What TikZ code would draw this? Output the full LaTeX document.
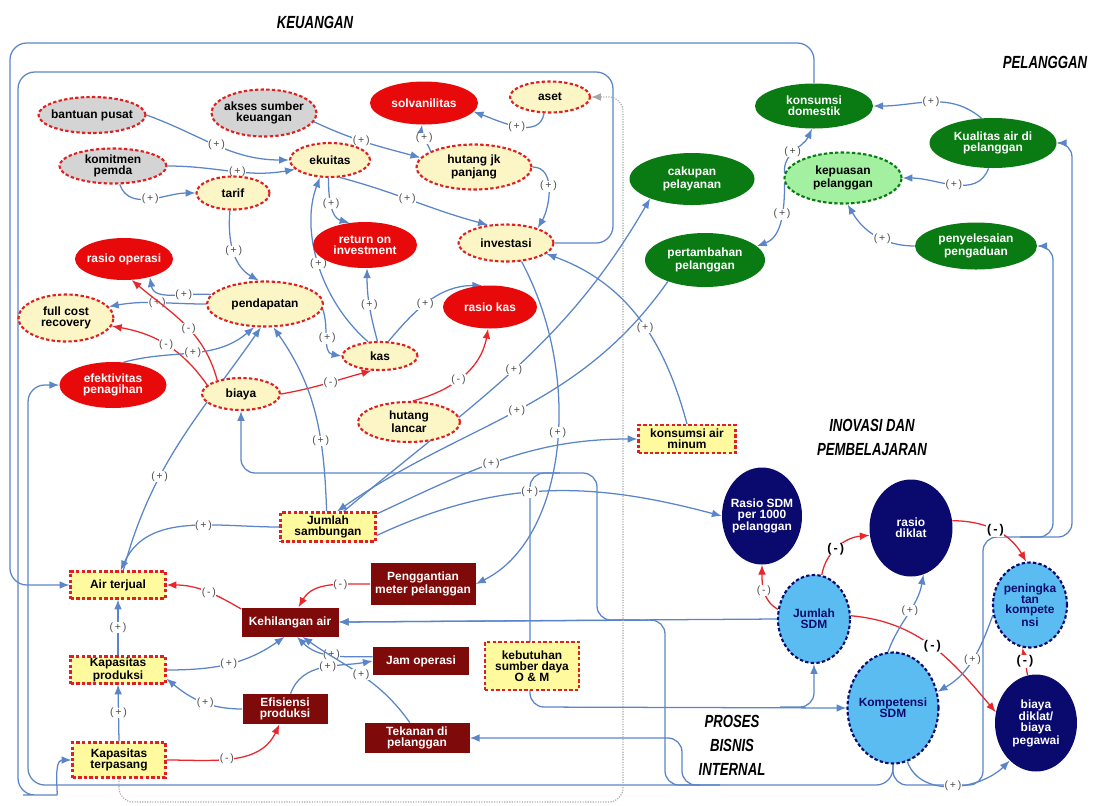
\documentclass[tikz,border=0pt]{standalone}
\usepackage{fontspec}
\setmainfont{Liberation Sans}
\newfontfamily\ttlfont[FakeStretch=0.75]{Liberation Sans}
\usetikzlibrary{shapes.geometric,arrows.meta,backgrounds}

\definecolor{lnblue}{HTML}{5A85C8}
\definecolor{lnred}{HTML}{E8262C}
\definecolor{bdred}{HTML}{E02020}
\definecolor{fillyel}{HTML}{FCF6C6}
\definecolor{boxyel}{HTML}{FFFA9E}
\definecolor{fillgray}{HTML}{D4D4D4}
\definecolor{solred}{HTML}{E80A0A}
\definecolor{dkgreen}{HTML}{0A7A12}
\definecolor{ltgreen}{HTML}{A3F0A0}
\definecolor{dkred}{HTML}{7E0A0A}
\definecolor{navyb}{HTML}{0A0A6E}
\definecolor{skyb}{HTML}{5BBCF2}

\newcommand{\lplus}{(\,+\,)}
\newcommand{\lminus}{(\,-\,)}

\begin{document}
\begin{tikzpicture}[x=0.025cm, y=-0.025cm,
    wh/.style 2 args={minimum width=#1*0.025cm, minimum height=#2*0.025cm},
    txt/.style={font=\fontsize{8.5}{7.8}\selectfont\bfseries, align=center},
    rdash/.style={draw=bdred, line width=1.5pt, dash pattern=on 2.4pt off 1.6pt},
    yel/.style={txt, ellipse, rdash, fill=fillyel, inner xsep=-4pt, inner ysep=-3pt},
    gry/.style={yel, fill=fillgray},
    redE/.style={txt, ellipse, fill=solred, text=white, inner xsep=-4pt, inner ysep=-3pt},
    grnE/.style={txt, ellipse, fill=dkgreen, text=white, inner xsep=-4pt, inner ysep=-3pt},
    grnL/.style={txt, ellipse, fill=ltgreen, draw=dkgreen, line width=1.5pt, dash pattern=on 2.4pt off 1.6pt, inner xsep=-4pt, inner ysep=-3pt},
    ybox/.style={txt, rectangle, rdash, fill=boxyel, inner sep=1pt},
    rbox/.style={txt, rectangle, fill=dkred, text=white, inner sep=1pt},
    navE/.style={txt, ellipse, fill=navyb, text=white, inner sep=-3pt},
    skyE/.style={txt, ellipse, fill=skyb, draw=navyb, line width=1.5pt, dash pattern=on 2.4pt off 1.6pt, text=navyb, inner sep=-3pt},
    cl/.style={draw=lnblue, line width=0.9pt, -{Latex[length=7pt,width=5.5pt]}},
    cr/.style={cl, draw=lnred},
    dotln/.style={draw=gray!70, line width=0.8pt, densely dotted, -{Latex[length=7pt,width=5.5pt]}},
    lbl/.style={fill=white, inner sep=0.4pt, font=\fontsize{7.5}{7.5}\selectfont, text=black!70},
    lblb/.style={lbl, font=\fontsize{9}{9}\selectfont\bfseries, text=black},
    ttl/.style={font=\ttlfont\fontsize{12.5}{17}\selectfont\bfseries\itshape, align=center}
]
    \useasboundingbox (0,0) rectangle (1094,805);

    % Titles
    \node[ttl] (tkeu) at (315,22) {KEUANGAN};
    \node[ttl] (tpel) at (1045,62) {PELANGGAN};
    \node[ttl] (tino) at (872,437) {INOVASI DAN\\PEMBELAJARAN};
    \node[ttl] (tpro) at (732,745) {PROSES\\BISNIS\\INTERNAL};

    % Keuangan
    \node[gry, wh={107}{36}] (bantuan) at (92,115) {bantuan pusat};
    \node[gry, wh={105}{47}] (akses) at (264,113) {akses sumber\\keuangan};
    \node[gry, wh={107}{35}] (komitmen) at (113,166) {komitmen\\pemda};
    \node[redE, wh={108}{43}] (solv) at (424,103) {solvanilitas};
    \node[yel, wh={80}{31}] (aset) at (550,97) {aset};
    \node[yel, wh={80}{34}] (ekuitas) at (330,160) {ekuitas};
    \node[yel, wh={115}{45}] (hutangjp) at (474,167) {hutang jk\\panjang};
    \node[yel, wh={73}{33}] (tarif) at (233,193) {tarif};
    \node[redE, wh={104}{46}] (roi) at (365,245) {return on\\investment};
    \node[yel, wh={95}{37}] (invest) at (506,243) {investasi};
    \node[redE, wh={98}{42}] (rasioop) at (124,259) {rasio operasi};
    \node[yel, wh={95}{47}] (fcr) at (66,318) {full cost\\recovery};
    \node[yel, wh={116}{45}] (pend) at (265,304) {pendapatan};
    \node[yel, wh={75}{28}] (kas) at (380,356) {kas};
    \node[redE, wh={94}{43}] (rasiokas) at (490,307) {rasio kas};
    \node[redE, wh={107}{46}] (efek) at (113,385) {efektivitas\\penagihan};
    \node[yel, wh={78}{32}] (biaya) at (241,394) {biaya};
    \node[yel, wh={102}{40}] (hlancar) at (409,422) {hutang\\lancar};

    % Pelanggan
    \node[grnE, wh={118}{45}] (kdom) at (814,106) {konsumsi\\domestik};
    \node[grnE, wh={127}{50}] (kualitas) at (993,143) {Kualitas air di\\pelanggan};
    \node[grnL, wh={117}{51}] (kepuasan) at (843,178) {kepuasan\\pelanggan};
    \node[grnE, wh={125}{52}] (cakupan) at (692,179) {cakupan\\pelayanan};
    \node[grnE, wh={122}{47}] (penyel) at (976,246) {penyelesaian\\pengaduan};
    \node[grnE, wh={120}{54}] (pertamb) at (705,260) {pertambahan\\pelanggan};

    % Proses bisnis internal
    \node[ybox, wh={97}{28}] (kam) at (687,439) {konsumsi air\\minum};
    \node[ybox, wh={95}{29}] (jsamb) at (328,527) {Jumlah\\sambungan};
    \node[ybox, wh={95}{27}] (airt) at (118,585) {Air terjual};
    \node[rbox, wh={105}{42}] (pgm) at (423,584) {Penggantian\\meter pelanggan};
    \node[rbox, wh={97}{29}] (kehil) at (290,622) {Kehilangan air};
    \node[rbox, wh={96}{28}] (jamop) at (421,661) {Jam operasi};
    \node[ybox, wh={94}{48}] (kebut) at (532,666) {kebutuhan\\sumber daya\\O \& M};
    \node[ybox, wh={95}{27}] (kprod) at (118,670) {Kapasitas\\produksi};
    \node[rbox, wh={85}{30}] (efis) at (285,709) {Efisiensi\\produksi};
    \node[rbox, wh={105}{30}] (tekanan) at (417,738) {Tekanan di\\pelanggan};
    \node[ybox, wh={93}{35}] (kterp) at (119,760) {Kapasitas\\terpasang};

    % Inovasi dan pembelajaran
    \node[navE, wh={80}{97}] (rsdm) at (762,516) {Rasio SDM\\per 1000\\pelanggan};
    \node[navE, wh={83}{97}] (rdiklat) at (911,528) {rasio\\diklat};
    \node[skyE, wh={72}{88}] (jsdm) at (814,619) {Jumlah\\SDM};
    \node[skyE, wh={74}{85}] (pkomp) at (1030,605) {peningka\\tan\\kompete\\nsi};
    \node[skyE, wh={91}{111}] (komp) at (893,708) {Kompetensi\\SDM};
    \node[navE, wh={82}{97}] (bdiklat) at (1036,723) {biaya\\diklat/\\biaya\\pegawai};

    \begin{scope}[on background layer]
    % Long loops
    \draw[cl, rounded corners=12pt] (kdom.north) -- (814,43) -- (10,43) -- (10,585) -- (airt.west);
    \draw[cl, rounded corners=12pt] (invest.east) -- (613,243) -- (613,72) -- (18,72) -- (18,795) -- (40,795) to[out=0,in=180] (kterp.west);
    \draw[cl, rounded corners=12pt] (komp.south) |- (28,785) |- (efek.west);
    \draw[cl, rounded corners=10pt] (komp.south) |- (983,785) |- (1053,537) |- (penyel.east);
    \draw[cl, rounded corners=10pt] (1020,537) -- (1072,537) |- (kualitas.east);
    \draw[cl, rounded corners=10pt] (720,785) -| (682,738) -- (tekanan.east);
    \draw[cl, rounded corners=10pt] (700,785) -| (665,620) -- (kehil.east);
    \draw[cl] (jsdm.west) -- (kehil.east);
    \draw[cl, rounded corners=10pt] (640,620) -| (597,473) -| (biaya.south);
    \draw[cl, rounded corners=10pt] (560,473) -| (530,707) -- (komp.west);
    \draw[cl, rounded corners=10pt] (780,707) -| (jsdm.south);
    \draw[dotln, rounded corners=10pt] (kterp.south) |- (623,802) |- (aset.east);

    % Keuangan links
    \draw[cl] (bantuan.east) to[out=-20,in=180] node[lbl,pos=0.5]{\lplus} (ekuitas.west);
    \draw[cl] (komitmen.east) to[out=0,in=190] node[lbl,pos=0.55]{\lplus} (ekuitas.195);
    \draw[cl] (komitmen.-70) to[out=-70,in=180] node[lbl,pos=0.5]{\lplus} (tarif.west);
    \draw[cl] (tarif.-100) to[out=-95,in=150] node[lbl,pos=0.5]{\lplus} (pend.105);
    \draw[cl] (akses.-10) to[out=-25,in=165] node[lbl,pos=0.45]{\lplus} (hutangjp.170);
    \draw[cl] (hutangjp.160) to[out=110,in=-100] node[lbl,pos=0.5]{\lplus} (solv.-95);
    \draw[cl] (aset.-110) to[out=-100,in=-20] node[lbl,pos=0.5]{\lplus} (solv.-10);
    \draw[cl] (hutangjp.east) to[out=0,in=60] node[lbl,pos=0.45]{\lplus} (invest.25);
    \draw[cl] (ekuitas.-60) to[out=-15,in=165] node[lbl,pos=0.45]{\lplus} (invest.135);
    \draw[cl] (ekuitas.-95) to[out=-90,in=165] node[lbl,pos=0.45]{\lplus} (roi.125);
    \draw[cl] (kas.130) .. controls (320,300) and (300,230) .. (ekuitas.-120) node[lbl,pos=0.5]{\lplus};
    \draw[cl] (kas.100) to[out=105,in=-90] node[lbl,pos=0.5]{\lplus} (roi.-85);
    \draw[cl] (kas.60) to[out=50,in=180] node[lbl,pos=0.45]{\lplus} (rasiokas.110);
    \draw[cl] (pend.-5) to[out=-70,in=170] node[lbl,pos=0.5]{\lplus} (kas.west);
    \draw[cr] (biaya.east) to[out=10,in=-165] node[lbl,pos=0.55]{\lminus} (kas.-120);
    \draw[cr] (hlancar.80) to[out=15,in=-100] node[lbl,pos=0.45]{\lminus} (rasiokas.-95);
    \draw[cl] (pend.west) to[out=180,in=10] node[lbl,pos=0.5]{\lplus} (fcr.15);
    \draw[cl] (pend.170) to[out=175,in=-80] node[lbl,pos=0.35]{\lplus} (rasioop.-35);
    \draw[cr] (biaya.165) to[out=125,in=-10] node[lbl,pos=0.5]{\lminus} (fcr.-10);
    \draw[cr] (biaya.150) to[out=105,in=-40] node[lbl,pos=0.45]{\lminus} (rasioop.-70);
    \draw[cl] (efek.65) to[out=15,in=-140] node[lbl,pos=0.5]{\lplus} (pend.-115);
    \draw[cl] (airt.70) to[out=75,in=-125] node[lbl,pos=0.35]{\lplus} (pend.-100);
    \draw[cl] (jsamb.west) to[out=180,in=65] node[lbl,pos=0.4]{\lplus} (airt.80);
    \draw[cl] (jsamb.95) to[out=92,in=-55] node[lbl,pos=0.35]{\lplus} (pend.-70);

    % Jumlah sambungan links
    \draw[cl] (pertamb.-150) to[out=-125,in=35] node[lbl,pos=0.5]{\lplus} (jsamb.60);
    \draw[cl] (jsamb.45) to[out=40,in=-120] node[lbl,pos=0.5]{\lplus} (cakupan.-155);
    \draw[cl] (jsamb.15) to[out=25,in=180] node[lbl,pos=0.45]{\lplus} (kam.west);
    \draw[cl] (jsamb.-10) to[out=25,in=165] node[lbl,pos=0.45]{\lplus} (rsdm.west);
    \draw[cl] (kam.north) to[out=105,in=-20] node[lbl,pos=0.45]{\lplus} (invest.-15);
    \draw[cl] (invest.-50) .. controls (585,380) and (565,540) .. (pgm.east) node[lbl,pos=0.45]{\lplus};

    % Pelanggan links
    \draw[cl] (kualitas.115) to[out=140,in=0] node[lbl,pos=0.5]{\lplus} (kdom.east);
    \draw[cl] (kualitas.-100) to[out=-110,in=0] node[lbl,pos=0.5]{\lplus} (kepuasan.east);
    \draw[cl] (penyel.west) to[out=180,in=-60] node[lbl,pos=0.4]{\lplus} (kepuasan.-80);
    \draw[cl] (kepuasan.175) to[out=95,in=-115] node[lbl,pos=0.45]{\lplus} (kdom.-95);
    \draw[cl] (kepuasan.185) to[out=-90,in=20] node[lbl,pos=0.4]{\lplus} (pertamb.15);

    % Proses links
    \draw[cl] (kterp.north) -- node[lbl]{\lplus} (kprod.south);
    \draw[cl] (kprod.north) -- node[lbl]{\lplus} (airt.south);
    \draw[cr] (kehil.165) to[out=150,in=0] node[lbl,pos=0.45]{\lminus} (airt.east);
    \draw[cr] (pgm.west) to[out=180,in=60] node[lbl,pos=0.35]{\lminus} (kehil.60);
    \draw[cl] (kprod.east) to[out=0,in=-145] node[lbl,pos=0.5]{\lplus} (kehil.-110);
    \draw[cl] (efis.west) to[out=180,in=-40] node[lbl,pos=0.45]{\lplus} (kprod.-10);
    \draw[cr] (kterp.east) to[out=0,in=-115] node[lbl,pos=0.45]{\lminus} (efis.-110);
    \draw[cl] (jamop.175) to[out=180,in=-45] node[lbl,pos=0.5]{\lplus} (kehil.-65);
    \draw[cl] (tekanan.115) to[out=125,in=-35] node[lbl,pos=0.5]{\lplus} (kehil.-50);
    \draw[cl] (efis.70) to[out=70,in=190] node[lbl,pos=0.55]{\lplus} (jamop.west);

    % Inovasi links
    \draw[cr] (jsdm.165) to[out=150,in=-90] node[lbl,pos=0.5]{\lminus} (rsdm.-90);
    \draw[cr] (jsdm.80) to[out=80,in=185] node[lblb,pos=0.45]{\lminus} (rdiklat.190);
    \draw[cr] (rdiklat.10) to[out=0,in=120] node[lblb,pos=0.5]{\lminus} (pkomp.95);
    \draw[cr] (jsdm.5) to[out=-5,in=130] node[lblb,pos=0.5]{\lminus} (bdiklat.165);
    \draw[cr] (bdiklat.100) -- node[lblb]{\lminus} (pkomp.-100);
    \draw[cl] (komp.95) to[out=70,in=-100] node[lbl,pos=0.55]{\lplus} (rdiklat.-75);
    \draw[cl] (pkomp.195) to[out=-110,in=30] node[lbl,pos=0.5]{\lplus} (komp.20);
    \draw[cl] (komp.-75) to[out=-70,in=-135] node[lbl,pos=0.5]{\lplus} (bdiklat.-125);
    \end{scope}
\end{tikzpicture}
\end{document}
